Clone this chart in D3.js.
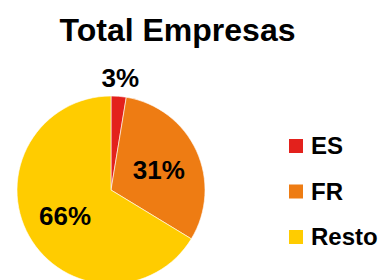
<!DOCTYPE html>
<html>
<head>
<meta charset="utf-8">
<script src="https://cdn.jsdelivr.net/npm/d3@7"></script>
<style>
  body { margin: 0; background: #fff; }
  text { font-family: "Liberation Sans", Arial, sans-serif; font-weight: bold; fill: #000; }
</style>
</head>
<body>
<div id="chart"></div>
<script>
// data
var categories = ["ES", "FR", "Resto"];
var shares = [2.6, 31.1, 66.3];
var shareLabels = ["3%", "31%", "66%"];
var colors = ["#E3211C", "#EE7C13", "#FFCC00"];

var svgWidth = 390;
var svgHeight = 280;

var svg = d3.select("#chart")
  .append("svg")
  .attr("width", svgWidth)
  .attr("height", svgHeight);

var data = categories.map((c, i) => ({ name: c, value: shares[i], label: shareLabels[i], color: colors[i] }));

// title
svg.append("text")
  .attr("x", 177.5)
  .attr("y", 41)
  .attr("text-anchor", "middle")
  .style("font-size", "32px")
  .text("Total Empresas");

var radius = 94;
var pieGroup = svg.append("g")
  .attr("transform", "translate(111,190)");

var pie = d3.pie()
  .sort(null)
  .value(d => d.value);

var arc = d3.arc()
  .innerRadius(0)
  .outerRadius(radius);

var arcs = pie(data);

pieGroup.selectAll("path")
  .data(arcs)
  .enter()
  .append("path")
  .attr("d", arc)
  .attr("fill", d => d.data.color)
  .attr("stroke", "#fff")
  .attr("stroke-width", 0.6);

// label positions: ES outside, others inside
var outerArc = d3.arc().innerRadius(radius + 19).outerRadius(radius + 19);
var innerArc = d3.arc().innerRadius(radius * 0.56).outerRadius(radius * 0.56);

pieGroup.selectAll(".pct")
  .data(arcs)
  .enter()
  .append("text")
  .attr("class", "pct")
  .attr("text-anchor", "middle")
  .attr("dy", "0.36em")
  .style("font-size", "26px")
  .attr("transform", (d, i) => {
    var c = i === 0 ? outerArc.centroid(d) : innerArc.centroid(d);
    if (i === 1) c[1] += 2;
    return `translate(${c[0]},${c[1]})`;
  })
  .text(d => d.data.label);

// legend
var legend = svg.append("g")
  .attr("transform", "translate(289,139)");

var legendY = d3.scalePoint()
  .domain(categories)
  .range([0, 91]);

var items = legend.selectAll("g")
  .data(data)
  .enter()
  .append("g")
  .attr("transform", d => `translate(0,${legendY(d.name)})`);

items.append("rect")
  .attr("width", 14)
  .attr("height", 14)
  .attr("fill", d => d.color);

items.append("text")
  .attr("x", 22)
  .attr("y", 15)
  .style("font-size", "24px")
  .text(d => d.name);
</script>
</body>
</html>
